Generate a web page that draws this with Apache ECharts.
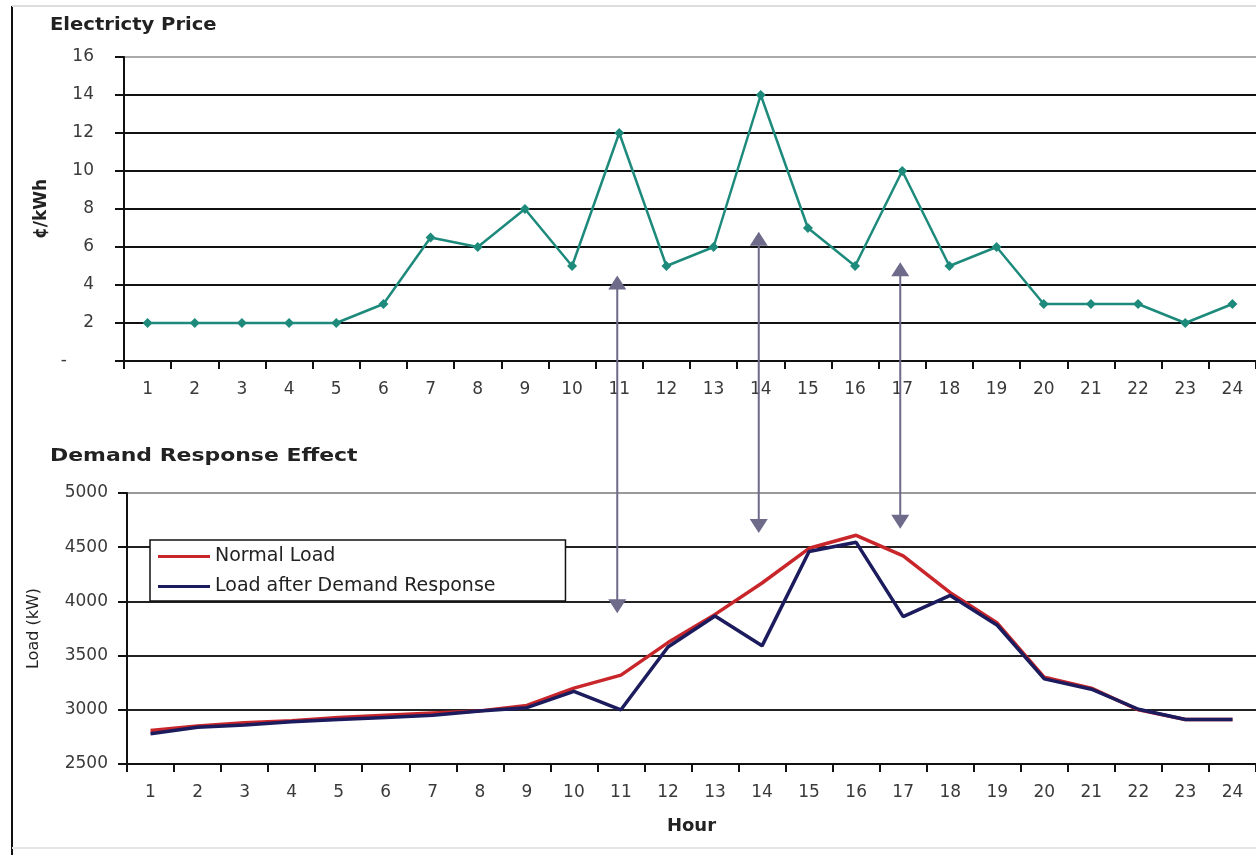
<!DOCTYPE html>
<html>
<head>
<meta charset="utf-8">
<script src="https://cdn.jsdelivr.net/npm/echarts@6/dist/echarts.min.js"></script>
<style>
  html, body { margin: 0; padding: 0; background: #ffffff; }
  #chart { width: 1256px; height: 855px; }
</style>
</head>
<body>
<div id="chart"></div>
<script>
// Hourly categories shared by both panels
const hours = ['1','2','3','4','5','6','7','8','9','10','11','12','13','14','15','16','17','18','19','20','21','22','23','24'];

// Electricity price, cents per kWh
const price = [2, 2, 2, 2, 2, 3, 6.5, 6, 8, 5, 12, 5, 6, 14, 7, 5, 10, 5, 6, 3, 3, 3, 2, 3];

// Load in kW before and after demand response
const normalLoad = [2810, 2850, 2880, 2900, 2930, 2950, 2970, 2990, 3040, 3200, 3320, 3620, 3880, 4170, 4490, 4610, 4420, 4080, 3800, 3300, 3200, 3000, 2910, 2910];
const drLoad     = [2780, 2840, 2860, 2890, 2910, 2930, 2950, 2990, 3020, 3170, 3000, 3580, 3865, 3590, 4460, 4545, 3860, 4055, 3780, 3285, 3190, 3005, 2910, 2910];

// Double-headed arrows linking price spikes to load reductions
const arrowHours = ['11', '14', '17'];
const arrowPriceEnds = [4.5, 6.8, 5.2];
const arrowLoadEnds = [3890, 4630, 4670];

const FONT = 'DejaVu Sans';
const tickLabel = { fontFamily: FONT, fontSize: 17, color: '#3a3a3a' };

const chart = echarts.init(document.getElementById('chart'), null, { renderer: 'canvas' });

const option = {
  animation: false,
  backgroundColor: '#ffffff',
  grid: [
    { left: 124, top: 57, width: 1133, height: 304 },
    { left: 127, top: 493, width: 1133, height: 271 }
  ],
  legend: {
    orient: 'vertical',
    left: 150,
    top: 540,
    padding: [7, 70, 5, 8],
    itemGap: 11,
    itemWidth: 52,
    itemHeight: 3,
    icon: 'rect',
    borderColor: '#111',
    borderWidth: 1.5,
    backgroundColor: '#ffffff',
    textStyle: { fontFamily: FONT, fontSize: 19, color: '#222' },
    data: ['Normal Load', 'Load after Demand Response']
  },
  xAxis: [
    {
      type: 'category', gridIndex: 0, data: hours, boundaryGap: true,
      axisLine: { lineStyle: { color: '#111', width: 2 } },
      axisTick: { show: true, interval: 0, length: 8, lineStyle: { color: '#111', width: 2 } },
      axisLabel: Object.assign({ interval: 0, margin: 20 }, tickLabel),
      splitLine: { show: false }
    },
    {
      type: 'category', gridIndex: 1, data: hours, boundaryGap: true,
      name: 'Hour', nameLocation: 'middle', nameGap: 53,
      nameTextStyle: { fontFamily: FONT, fontSize: 18, fontWeight: 'bold', color: '#222' },
      axisLine: { lineStyle: { color: '#111', width: 2 } },
      axisTick: { show: true, interval: 0, length: 8, lineStyle: { color: '#111', width: 2 } },
      axisLabel: Object.assign({ interval: 0, margin: 20 }, tickLabel),
      splitLine: { show: false }
    }
  ],
  yAxis: [
    {
      type: 'value', gridIndex: 0, min: 0, max: 16, interval: 2,
      name: '\u00a2/kWh', nameLocation: 'middle', nameGap: 67, nameRotate: 90,
      nameTextStyle: { fontFamily: FONT, fontSize: 17, fontWeight: 'bold', color: '#222' },
      axisLine: { show: true, lineStyle: { color: '#111', width: 2 } },
      axisTick: { show: true, length: 9, lineStyle: { color: '#111', width: 2 } },
      axisLabel: Object.assign({ margin: 30, formatter: v => (v === 0 ? '-     ' : String(v)) }, tickLabel),
      splitLine: { show: true, lineStyle: { width: 2, color: ['#111','#111','#111','#111','#111','#111','#111','#111','#aaaaaa'] } }
    },
    {
      type: 'value', gridIndex: 1, min: 2500, max: 5000, interval: 500,
      name: 'Load (kW)', nameLocation: 'middle', nameGap: 85, nameRotate: 90,
      nameTextStyle: { fontFamily: FONT, fontSize: 16, color: '#222' },
      axisLine: { show: true, lineStyle: { color: '#111', width: 2 } },
      axisTick: { show: true, length: 9, lineStyle: { color: '#111', width: 2 } },
      axisLabel: Object.assign({ margin: 19, formatter: v => String(v) }, tickLabel),
      splitLine: { show: true, lineStyle: { width: 2, color: ['#222','#222','#222','#222','#222','#999999'] } }
    }
  ],
  series: [
    {
      name: 'Electricity Price', type: 'line', xAxisIndex: 0, yAxisIndex: 0,
      data: price,
      symbol: 'diamond', symbolSize: 10, showSymbol: true,
      lineStyle: { color: '#1d8a7c', width: 2.5 },
      itemStyle: { color: '#1d8a7c' },
      z: 3
    },
    {
      name: 'Normal Load', type: 'line', xAxisIndex: 1, yAxisIndex: 1,
      data: normalLoad, showSymbol: false, symbol: 'none',
      lineStyle: { color: '#c8262a', width: 3.5 },
      itemStyle: { color: '#c8262a' },
      z: 3
    },
    {
      name: 'Load after Demand Response', type: 'line', xAxisIndex: 1, yAxisIndex: 1,
      data: drLoad, showSymbol: false, symbol: 'none',
      lineStyle: { color: '#1b1b5e', width: 3.5 },
      itemStyle: { color: '#1b1b5e' },
      z: 4
    }
  ]
};

chart.setOption(option);

// Panel titles, frame and the linking arrows
const graphics = [
  { type: 'line', shape: { x1: 12, y1: 6, x2: 12, y2: 855 }, style: { stroke: '#111', lineWidth: 2 }, z: 10 },
  { type: 'line', shape: { x1: 12, y1: 6, x2: 1256, y2: 6 }, style: { stroke: '#dddddd', lineWidth: 2 }, z: 10 },
  { type: 'line', shape: { x1: 12, y1: 848, x2: 1256, y2: 848 }, style: { stroke: '#e6e6e6', lineWidth: 2 }, z: 10 },
  {
    type: 'text', x: 50, y: 17, scaleX: 1.15, z: 10,
    style: { text: 'Electricty Price', font: 'bold 17px "DejaVu Sans"', fill: '#222', textVerticalAlign: 'top' }
  },
  {
    type: 'text', x: 50, y: 448, scaleX: 1.29, z: 10,
    style: { text: 'Demand Response Effect', font: 'bold 17px "DejaVu Sans"', fill: '#222', textVerticalAlign: 'top' }
  }
];

const ARROW = '#6d6a8a';
const headH = 14, headW = 9;
arrowHours.forEach((h, i) => {
  const x = chart.convertToPixel({ xAxisIndex: 0 }, h) - 2;
  const yTop = chart.convertToPixel({ yAxisIndex: 0 }, arrowPriceEnds[i]);
  const yBot = chart.convertToPixel({ yAxisIndex: 1 }, arrowLoadEnds[i]);
  graphics.push({
    type: 'line', z: 20,
    shape: { x1: x, y1: yTop + headH - 1, x2: x, y2: yBot - headH + 1 },
    style: { stroke: ARROW, lineWidth: 2 }
  });
  graphics.push({
    type: 'polygon', z: 20,
    shape: { points: [[x, yTop], [x - headW, yTop + headH], [x + headW, yTop + headH]] },
    style: { fill: ARROW }
  });
  graphics.push({
    type: 'polygon', z: 20,
    shape: { points: [[x, yBot], [x - headW, yBot - headH], [x + headW, yBot - headH]] },
    style: { fill: ARROW }
  });
});

chart.setOption({ graphic: graphics });
</script>
</body>
</html>
